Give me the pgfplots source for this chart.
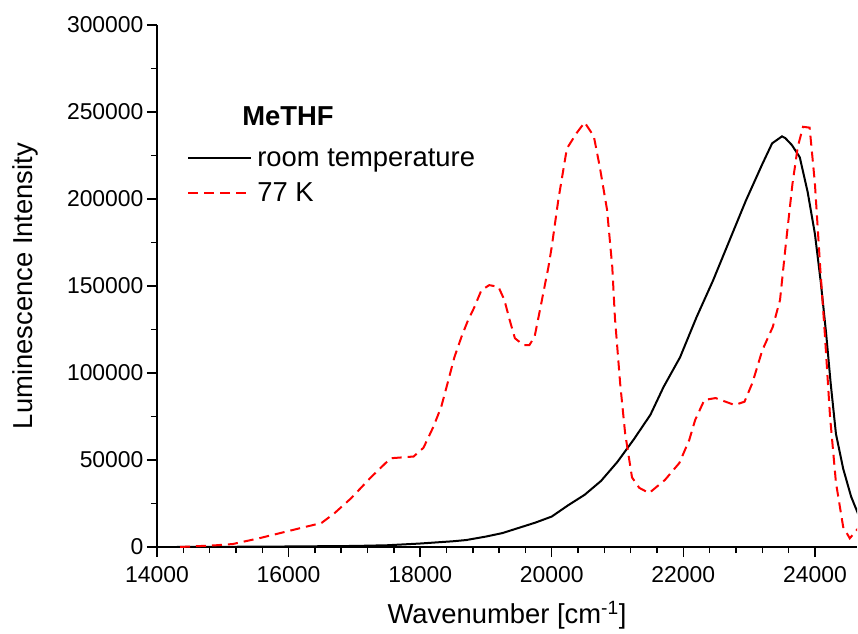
\documentclass[border=0pt]{standalone}
\usepackage{fontspec}
\setmainfont{Liberation Sans}
\usepackage{pgfplots}
\pgfplotsset{compat=1.18}
\begin{document}
\begin{tikzpicture}
\begin{axis}[
  scale only axis,
  width=700bp, height=522bp,
  xmin=14000, xmax=24640,
  ymin=0, ymax=300000,
  axis lines*=left,
  axis line style={line width=1.5bp},
  tick style={line width=1.5bp, black},
  tick align=outside,
  major tick length=10bp,
  minor tick length=6bp,
  xtick={14000,16000,...,24000},
  minor x tick num=4,
  ytick={0,50000,...,300000},
  minor y tick num=1,
  scaled ticks=false,
  /pgf/number format/.cd, fixed, precision=0, set thousands separator={}, assume math mode=true,
  /pgfplots/.cd,
  tick label style={font=\fontsize{23}{27}\selectfont},
  xticklabel shift=6bp,
  label style={font=\fontsize{27.5}{32}\selectfont},
  xlabel shift=12bp,
  ylabel shift=22bp,
  xlabel={Wavenumber [cm\textsuperscript{-1}]},
  ylabel={Luminescence Intensity},
  legend style={draw=none, fill=none, inner sep=0pt,
    at={(axis description cs:0.043,0.768)}, anchor=north west,
    font=\fontsize{27.5}{32}\selectfont, row sep=11bp},
  legend cell align=left,
  legend image code/.code={\draw[#1] (0bp,0bp) -- (63bp,0bp); \path (66bp,0bp);},
]
\addplot[black, line width=2bp] coordinates {
(14300,0) (15000,100) (16000,300) (17000,600) (17500,1000) (18000,2000)
(18500,3300) (18700,4000) (19000,6000) (19250,8000) (19500,11000)
(19750,14000) (20000,17500) (20250,24000) (20500,30000) (20750,38000)
(21000,49000) (21250,62000) (21500,76000) (21700,92000) (21950,109000)
(22200,132000) (22450,153000) (22700,176000) (22950,199000) (23200,220000)
(23350,232000) (23500,236000) (23550,235000) (23650,231000) (23770,224000)
(23890,204000) (24000,180000) (24090,152000) (24170,123000) (24240,94000)
(24320,65000) (24430,45000) (24550,29000) (24700,15000)
};
\addlegendentry{room temperature}
\addplot[red, line width=2bp, dash pattern=on 10bp off 6bp] coordinates {
(14350,0) (14900,1000) (15150,1700) (15550,5000) (16000,9200) (16500,13800)
(16700,19500) (16950,28000) (17250,40000) (17550,51000) (17900,52000)
(18050,57000) (18200,69000) (18320,80500) (18430,96000) (18520,109000)
(18630,121000) (18730,130500) (18820,137500) (18930,147500) (19050,150500)
(19190,149500) (19280,142000) (19360,130500) (19440,120000) (19570,116000)
(19660,116000) (19740,121000) (19820,136000) (19890,149500) (19950,161000)
(20000,172500) (20100,199500) (20230,229000) (20380,238000) (20500,244000)
(20640,236000) (20730,218500) (20840,194000) (20920,161000) (20960,132000)
(21040,94000) (21115,65500) (21220,40000) (21330,34000) (21480,31000)
(21720,38500) (21940,48300) (22090,61500) (22180,73000) (22320,84500)
(22490,85600) (22780,81600) (22930,83500) (23050,94300) (23200,113000)
(23360,126500) (23470,142000) (23560,174700) (23660,209000) (23740,230000)
(23820,241500) (23920,241000) (24000,209000) (24080,161000) (24150,123000)
(24230,75000) (24320,37000) (24430,11500) (24530,5000) (24700,12600)
};
\addlegendentry{77 K}
\node[anchor=base west, font=\fontsize{27.5}{32}\selectfont\bfseries]
  at (axis description cs:0.117,0.8084) {MeTHF};
\end{axis}
\pgfresetboundingbox
\path[use as bounding box] (-157bp,-87bp) rectangle (701bp,547bp);
\end{tikzpicture}
\end{document}
